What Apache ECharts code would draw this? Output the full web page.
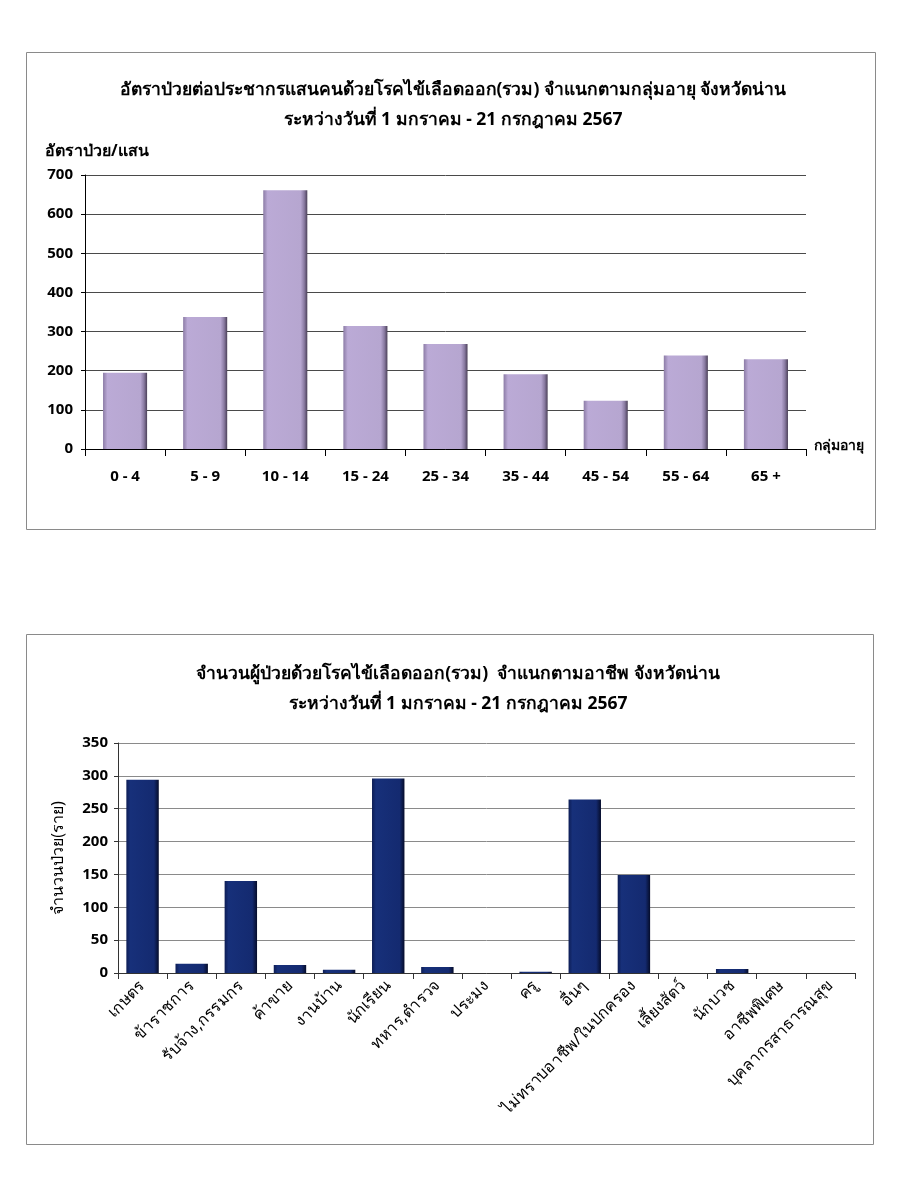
<!DOCTYPE html>
<html><head><meta charset="utf-8">
<script src="https://cdn.jsdelivr.net/npm/echarts@6/dist/echarts.min.js"></script>
<style>html,body{margin:0;padding:0;background:#fff}#c{width:900px;height:1188px}</style>
</head><body><div id="c"></div>
<script>
const ageGroups = ['0 - 4','5 - 9','10 - 14','15 - 24','25 - 34','35 - 44','45 - 54','55 - 64','65 +'];
const ageRates = [195, 337, 661, 314, 268, 191, 123, 239, 229];
const occupations = ['เกษตร','ข้าราชการ','รับจ้าง,กรรมกร','ค้าขาย','งานบ้าน','นักเรียน','ทหาร,ตำรวจ','ประมง','ครู','อื่นๆ','ไม่ทราบอาชีพ/ในปกครอง','เลี้ยงสัตว์','นักบวช','อาชีพพิเศษ','บุคลากรสาธารณสุข'];
const occCases = [294, 14, 140, 12, 5, 296, 9, 0, 2, 264, 149, 0, 6, 0, 0];
const title1 = 'อัตราป่วยต่อประชากรแสนคนด้วยโรคไข้เลือดออก(รวม) จำแนกตามกลุ่มอายุ จังหวัดน่าน';
const title2 = 'จำนวนผู้ป่วยด้วยโรคไข้เลือดออก(รวม)  จำแนกตามอาชีพ จังหวัดน่าน';
const subTitle = 'ระหว่างวันที่ 1 มกราคม - 21 กรกฎาคม 2567';

const FONT = 'Tahoma, "Noto Sans", "DejaVu Sans", sans-serif';
const chart = echarts.init(document.getElementById('c'), null, {renderer:'canvas'});

const purple = new echarts.graphic.LinearGradient(0,0,1,0,[
  {offset:0,color:'#8c7ca6'},{offset:0.1,color:'#bbaad6'},{offset:0.85,color:'#b6a6d0'},{offset:0.93,color:'#8a7ba2'},{offset:1,color:'#4b4058'}]);
const navy = new echarts.graphic.LinearGradient(0,0,1,0,[
  {offset:0,color:'#0d1d55'},{offset:0.12,color:'#17307a'},{offset:0.85,color:'#142a70'},{offset:1,color:'#050c2a'}]);

chart.setOption({
  animation:false,
  textStyle:{fontFamily:FONT},
  graphic:[
    {type:'rect', shape:{x:26.5,y:52.5,width:849,height:477}, style:{fill:'none',stroke:'#8a8a8a',lineWidth:1}},
    {type:'rect', shape:{x:26.5,y:634.5,width:847,height:510}, style:{fill:'none',stroke:'#8a8a8a',lineWidth:1}}
  ],
  title:[
    {text:title1, left:448, top:76, textAlign:'center', textStyle:{fontFamily:FONT,fontSize:17.5,fontWeight:'bold',color:'#000'}},
    {text:subTitle, left:448, top:106, textAlign:'center', textStyle:{fontFamily:FONT,fontSize:17.5,fontWeight:'bold',color:'#000'}},
    {text:title2, left:453, top:660, textAlign:'center', textStyle:{fontFamily:FONT,fontSize:17.5,fontWeight:'bold',color:'#000'}},
    {text:subTitle, left:453, top:690, textAlign:'center', textStyle:{fontFamily:FONT,fontSize:17.5,fontWeight:'bold',color:'#000'}}
  ],
  grid:[
    {left:85, top:175, width:721, height:274},
    {left:118, top:743, width:737, height:230}
  ],
  xAxis:[
    {type:'category', gridIndex:0, data:ageGroups, name:'กลุ่มอายุ', nameGap:8,
     nameTextStyle:{fontFamily:FONT,fontSize:14,fontWeight:'bold',color:'#000',verticalAlign:'bottom',padding:[0,0,-4,0]},
     axisLine:{lineStyle:{color:'#000',width:1}}, axisTick:{show:true,length:7,lineStyle:{color:'#000'}},
     axisLabel:{fontFamily:FONT,fontSize:15,fontWeight:'bold',color:'#000',margin:20}},
    {type:'category', gridIndex:1, data:occupations,
     axisLine:{lineStyle:{color:'#333',width:1}}, axisTick:{show:true,length:6,lineStyle:{color:'#333'}},
     axisLabel:{fontFamily:FONT,fontSize:16,color:'#000',rotate:45,margin:10,interval:0}}
  ],
  yAxis:[
    {type:'value', gridIndex:0, min:0, max:700, interval:100, name:'อัตราป่วย/แสน', nameGap:16,
     nameTextStyle:{fontFamily:FONT,fontSize:16,fontWeight:'bold',color:'#000',align:'left',padding:[0,0,0,-40]},
     axisLine:{show:true,lineStyle:{color:'#000'}}, axisTick:{show:true,length:4,lineStyle:{color:'#000'}},
     axisLabel:{fontFamily:FONT,fontSize:15,fontWeight:'bold',color:'#000',margin:12},
     splitLine:{lineStyle:{color:'#4a4a4a',width:1}}},
    {type:'value', gridIndex:1, min:0, max:350, interval:50, name:'จำนวนป่วย(ราย)', nameLocation:'middle', nameGap:52,
     nameTextStyle:{fontFamily:FONT,fontSize:16,color:'#000'},
     axisLine:{show:true,lineStyle:{color:'#333'}}, axisTick:{show:true,length:4,lineStyle:{color:'#333'}},
     axisLabel:{fontFamily:FONT,fontSize:15,fontWeight:'bold',color:'#000',margin:10},
     splitLine:{lineStyle:{color:'#8a8a8a',width:1}}}
  ],
  series:[
    {type:'bar', xAxisIndex:0, yAxisIndex:0, data:ageRates, barWidth:'55%',
     itemStyle:{color:purple, borderWidth:0}},
    {type:'bar', xAxisIndex:1, yAxisIndex:1, data:occCases, barWidth:'66%',
     itemStyle:{color:navy, borderWidth:0}}
  ]
});
</script></body></html>
